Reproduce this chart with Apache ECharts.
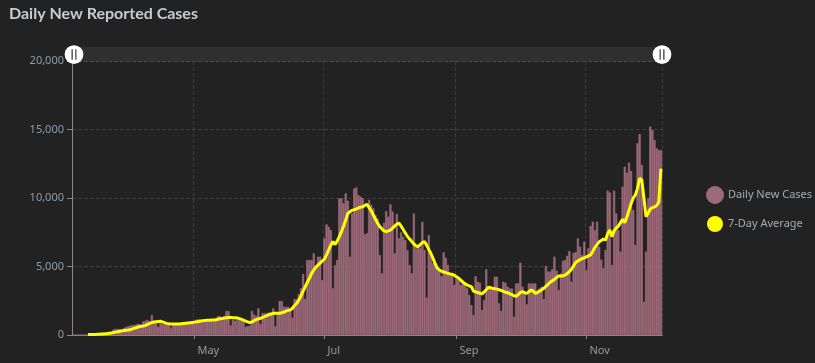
<!DOCTYPE html>
<html>
<head>
<meta charset="utf-8">
<script src="https://cdn.jsdelivr.net/npm/echarts@6/dist/echarts.min.js"></script>
<style>
html,body{margin:0;padding:0;background:#222222;}
#chart{width:815px;height:363px;}
</style>
</head>
<body>
<div id="chart"></div>
<script>
// ---- data ----
const startDate = '2020-03-05';
const dayCount = 277;
const monthLabels = ['May', 'Jul', 'Sep', 'Nov'];
const monthLabelDates = ['2020-05-01', '2020-07-01', '2020-09-01', '2020-11-01'];
const seriesNames = ['Daily New Cases', '7-Day Average'];
const yTicks = [0, 5000, 10000, 15000, 20000];

const dailyCases = [
  0,0,0,0,0,0,0,
  10,15,20,30,25,40,50,
  60,80,100,120,250,400,450,
  450,440,420,530,600,650,700,
  730,750,800,820,780,1000,1050,
  1100,1000,1460,970,950,600,850,
  820,800,780,800,550,820,800,
  830,850,900,880,920,950,900,
  920,1000,1140,1150,1100,1000,950,
  980,1140,1140,1150,1200,1380,1380,
  1300,1400,1750,1750,700,1100,1050,
  1080,1100,1050,1000,600,650,700,
  1750,1500,1400,1950,800,1600,1600,
  1600,1650,1600,1950,650,1600,2480,
  2480,2070,2070,2070,1820,1270,2630,
  2630,3000,3410,4450,2630,5480,5480,
  5480,5960,4850,5720,5720,4010,7060,
  8080,7900,7660,3410,5100,5480,9980,
  9980,9620,10340,9800,5720,8880,10700,
  10780,10220,10100,9980,7350,7430,9860,
  9500,9250,8760,8500,5840,4500,8200,
  9050,8640,9540,9010,5960,8840,7060,
  7500,7180,6940,6200,5110,4500,8880,
  6330,6500,6330,8270,6210,2730,7300,
  6080,5240,5110,4750,4750,4300,6030,
  5650,5110,4380,4380,3650,4140,4000,
  3650,4020,3800,3410,2920,2190,1460,
  4300,3890,3820,1830,2560,4800,3530,
  3530,3500,4260,4260,2310,1770,3890,
  3820,3530,3400,3400,1340,3770,3770,
  5280,3530,3040,2240,3770,3770,3770,
  3770,3280,3400,3530,2630,5040,4630,
  4630,4800,5720,4700,3280,4500,5430,
  5470,5780,6130,3890,6000,6060,7060,
  6450,5840,6820,4750,6330,7960,8270,
  7670,8270,6450,5500,4880,6210,10540,
  10400,5110,10540,8880,7670,6090,10830,
  12290,11850,12580,11970,9130,6580,13990,
  14670,12410,2430,6090,9980,15210,14970,
  14240,13630,13500,13500
];

const sevenDayAvg = [
  null,null,null,null,null,null,null,
  30,35,40,45,50,60,70,
  80,95,110,130,150,180,210,
  240,270,300,330,350,365,400,
  450,500,550,600,630,650,700,
  780,850,900,950,970,990,1000,
  960,900,850,820,800,800,800,
  800,800,820,840,860,880,900,
  920,940,960,990,1020,1040,1060,
  1070,1080,1090,1100,1120,1150,1180,
  1200,1230,1260,1270,1270,1260,1260,
  1240,1200,1150,1080,1020,960,900,
  950,1050,1120,1180,1220,1280,1350,
  1420,1480,1530,1580,1590,1580,1580,
  1620,1680,1740,1800,1830,1950,2150,
  2310,2550,2850,3200,3530,3850,4150,
  4500,4750,4950,5100,5250,5400,5550,
  5850,6200,6550,6820,6600,6850,7180,
  7550,7950,8400,8880,9000,9100,9150,
  9200,9270,9330,9370,9450,9540,9300,
  9050,8750,8450,8150,7910,7750,7600,
  7550,7600,7660,7800,7950,8100,8160,
  7950,7700,7430,7200,7000,6820,6650,
  6500,6450,6600,6750,6820,6550,6250,
  5950,5600,5200,4870,4750,4650,4600,
  4550,4500,4450,4430,4360,4260,4150,
  4000,3850,3750,3650,3580,3530,3200,
  3150,3100,3050,3000,3150,3300,3480,
  3450,3400,3380,3350,3300,3250,3180,
  3120,3090,3000,2950,2880,2820,2950,
  3100,3160,3100,3040,3150,3290,3200,
  3040,3100,3200,3300,3410,3550,3700,
  3850,3950,4050,4200,4310,4310,4310,
  4380,4480,4620,4800,5050,5300,5400,
  5500,5580,5620,5700,5780,5850,6100,
  6400,6600,6800,6900,7000,6940,7400,
  7670,7180,7600,7800,7950,8200,8450,
  8200,8600,9100,9600,10000,10220,10700,
  11440,11320,10000,8640,8900,9200,9300,
  9350,9450,9700,12150
];

// ---- categories (one per day) ----
function fmt(d) {
  const m = String(d.getUTCMonth() + 1).padStart(2, '0');
  const dd = String(d.getUTCDate()).padStart(2, '0');
  return d.getUTCFullYear() + '-' + m + '-' + dd;
}
const categories = [];
{
  const d0 = new Date(startDate + 'T00:00:00Z');
  for (let i = 0; i < dayCount; i++) {
    categories.push(fmt(new Date(d0.getTime() + i * 86400000)));
  }
}
const showTick = (index, value) => monthLabelDates.indexOf(categories[index]) >= 0;

const chart = echarts.init(document.getElementById('chart'), null, {renderer: 'canvas'});
const barColor = '#9e6a7b';
const fontFam = '"Noto Sans", "Open Sans", sans-serif';

chart.setOption({
  animation: false,
  backgroundColor: '#222222',
  title: {
    text: 'Daily New Reported Cases',
    left: 4, top: 1,
    textStyle: {color: '#c6ccd2', fontSize: 16, fontWeight: 'bold', fontFamily: 'Lato, sans-serif'}
  },
  legend: {
    orient: 'vertical',
    left: 701, top: 181,
    itemWidth: 16, itemHeight: 16, itemGap: 12,
    icon: 'circle',
    data: seriesNames,
    textStyle: {color: '#a3abb4', fontSize: 11, fontFamily: fontFam}
  },
  grid: {left: 72, right: 153, top: 61, bottom: 28, containLabel: false},
  dataZoom: [{
    type: 'slider',
    xAxisIndex: 0,
    start: 0, end: 100,
    left: 72, right: 153, top: 47, height: 15,
    showDetail: false,
    showDataShadow: false,
    brushSelect: false,
    moveHandleSize: 0,
    backgroundColor: 'rgba(255,255,255,0.06)',
    fillerColor: 'rgba(0,0,0,0)',
    borderColor: 'rgba(0,0,0,0)',
    handleIcon: 'path://M-10,0 A10,10 0 1,1 10,0 A10,10 0 1,1 -10,0 Z M-2.6,-5.5 L-2.6,5.5 L-1.4,5.5 L-1.4,-5.5 Z M1.4,-5.5 L1.4,5.5 L2.6,5.5 L2.6,-5.5 Z',
    handleSize: '125%',
    handleStyle: {color: '#ffffff', borderColor: 'rgba(0,0,0,0)', borderWidth: 0},
    emphasis: {handleStyle: {color: '#ffffff', borderColor: 'rgba(0,0,0,0)'}}
  }],
  xAxis: {
    type: 'category',
    data: categories,
    boundaryGap: true,
    axisLine: {show: true, lineStyle: {color: '#8a8a8a', width: 1}},
    axisTick: {show: true, interval: showTick, alignWithLabel: true, length: 4, lineStyle: {color: '#8a8a8a'}},
    axisLabel: {
      interval: showTick,
      align: 'left',
      padding: [0, 0, 0, 3],
      color: '#9a9a9a', fontSize: 11, fontFamily: fontFam, margin: 10,
      formatter: (v) => monthLabels[monthLabelDates.indexOf(v)] || ''
    },
    splitLine: {show: true, interval: showTick, lineStyle: {color: '#3c3c3c', type: 'dashed'}}
  },
  yAxis: {
    type: 'value',
    min: yTicks[0], max: yTicks[yTicks.length - 1], interval: yTicks[1] - yTicks[0],
    axisLine: {show: true, lineStyle: {color: '#8a8a8a'}},
    axisTick: {show: true, length: 5, lineStyle: {color: '#8a8a8a'}},
    axisLabel: {
      color: '#8e9cab', fontSize: 11, fontFamily: fontFam, margin: 8,
      formatter: (v) => v.toLocaleString('en-US')
    },
    splitLine: {show: true, lineStyle: {color: '#3c3c3c', type: 'dashed'}}
  },
  series: [
    {
      name: seriesNames[0], type: 'bar', data: dailyCases,
      barCategoryGap: '0%',
      itemStyle: {color: barColor, borderColor: barColor, borderWidth: 0.6}
    },
    {
      name: seriesNames[1], type: 'line', data: sevenDayAvg,
      showSymbol: false, symbol: 'circle', smooth: false,
      lineStyle: {color: '#ffff00', width: 3},
      itemStyle: {color: '#ffff00'},
      z: 5
    }
  ]
});
</script>
</body>
</html>
